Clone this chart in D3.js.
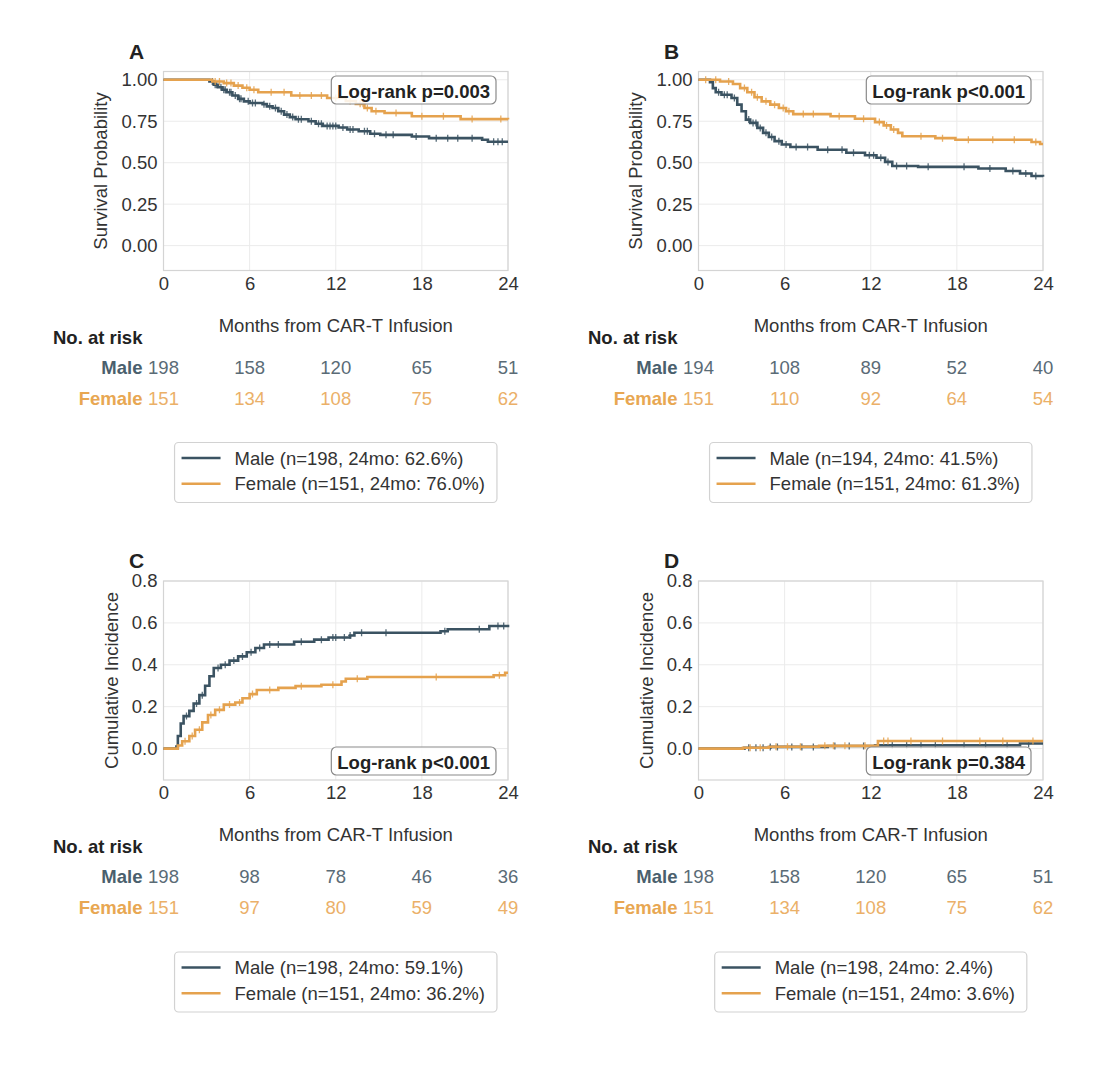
<!DOCTYPE html>
<html>
<head>
<meta charset="utf-8">
<script src="https://cdn.jsdelivr.net/npm/d3@7"></script>
<style>
  body { margin: 0; background: #fff; }
  text { font-family: "Liberation Sans", Arial, sans-serif; }
</style>
</head>
<body>
<svg id="chart" width="1112" height="1065"></svg>
<script>
'use strict';

// ---- data ----
const monthTicks = [0, 6, 12, 18, 24];
const panelLetters = ['A', 'B', 'C', 'D'];
const yTitles = ['Survival Probability', 'Survival Probability', 'Cumulative Incidence', 'Cumulative Incidence'];
const pLabels = ['Log-rank p=0.003', 'Log-rank p<0.001', 'Log-rank p<0.001', 'Log-rank p=0.384'];

// step curves: [month, value]
const maleA = [[0,1],[3.2,0.99],[3.5,0.97],[3.8,0.955],[4.1,0.94],[4.4,0.925],[4.8,0.905],[5.2,0.885],[5.6,0.87],[6.0,0.86],[6.9,0.853],[7.2,0.84],[7.6,0.83],[8.0,0.81],[8.4,0.79],[8.8,0.775],[9.2,0.762],[10.1,0.75],[10.6,0.735],[11.1,0.722],[12.2,0.712],[12.8,0.70],[13.6,0.69],[14.4,0.675],[15.1,0.668],[17.3,0.658],[18.5,0.648],[22.2,0.638],[22.6,0.626],[24,0.626]];
const femaleA = [[0,1],[3.4,0.99],[4.2,0.98],[4.9,0.965],[5.5,0.952],[6.0,0.94],[6.6,0.925],[8.9,0.905],[11.4,0.89],[12.7,0.872],[13.4,0.855],[14.0,0.83],[14.5,0.81],[15.4,0.80],[17.3,0.78],[20.7,0.763],[24,0.76]];
const maleB = [[0,1],[0.8,0.985],[1.0,0.95],[1.2,0.925],[1.6,0.91],[2.3,0.89],[2.7,0.85],[3.0,0.81],[3.3,0.76],[3.6,0.74],[4.1,0.71],[4.5,0.68],[4.9,0.655],[5.3,0.63],[5.8,0.61],[6.4,0.595],[8.3,0.578],[10.3,0.56],[11.6,0.545],[12.4,0.53],[13.0,0.505],[13.5,0.48],[15.3,0.475],[19.5,0.465],[21.4,0.45],[22.4,0.435],[23.2,0.42],[24,0.415]];
const femaleB = [[0,1],[1.5,0.99],[2.4,0.975],[2.9,0.95],[3.4,0.925],[3.9,0.895],[4.4,0.87],[5.0,0.85],[5.6,0.83],[6.1,0.81],[6.6,0.793],[9.2,0.78],[10.9,0.765],[12.3,0.745],[12.9,0.725],[13.4,0.70],[13.9,0.68],[14.2,0.66],[16.5,0.648],[17.9,0.638],[23.2,0.625],[23.8,0.613],[24,0.613]];
const maleC = [[0,0],[0.9,0.01],[1.0,0.06],[1.2,0.12],[1.4,0.155],[1.8,0.18],[2.1,0.215],[2.5,0.255],[2.9,0.30],[3.2,0.345],[3.5,0.385],[4.0,0.40],[4.6,0.42],[5.2,0.44],[5.8,0.46],[6.4,0.48],[7.0,0.497],[9.1,0.51],[10.5,0.52],[11.5,0.53],[13.0,0.54],[13.3,0.553],[19.3,0.56],[19.8,0.57],[22.7,0.585],[24,0.591]];
const femaleC = [[0,0],[1.0,0.015],[1.3,0.035],[1.8,0.06],[2.2,0.09],[2.7,0.125],[3.1,0.16],[3.6,0.185],[4.2,0.21],[5.0,0.22],[5.5,0.24],[6.0,0.26],[6.5,0.28],[8.0,0.29],[9.2,0.298],[11.0,0.305],[12.4,0.32],[12.7,0.333],[14.2,0.342],[23.0,0.35],[23.8,0.362],[24,0.362]];
const maleD = [[0,0],[3.2,0.004],[5.0,0.008],[9.0,0.012],[12.3,0.016],[22.4,0.024],[24,0.024]];
const femaleD = [[0,0],[3.1,0.004],[4.9,0.009],[8.4,0.013],[12.5,0.036],[24,0.036]];

// censoring times (months)
const maleCensA = [3.4,3.6,3.7,4.0,4.2,4.3,4.6,4.7,5.0,5.3,5.4,5.9,6.2,6.4,7.0,7.4,7.8,8.2,8.6,9.0,9.4,9.6,10.3,10.8,11.0,11.4,11.6,11.8,12.0,12.5,13.0,13.2,14.0,14.2,14.7,15.5,16.0,17.6,19.0,19.8,20.5,21.5,23.0,23.3,23.6];
const femaleCensA = [3.6,3.9,4.4,4.7,5.2,5.8,6.3,7.5,8.4,9.5,10.3,11.0,12.0,13.0,13.7,13.9,14.2,14.8,16.2,18.0,19.5,21.5,23.5];
const maleCensB = [1.4,1.8,2.0,2.5,3.5,3.8,4.0,4.3,4.7,5.1,5.6,6.1,6.8,7.6,9.0,10.0,10.8,11.9,12.2,12.7,13.2,13.8,14.5,16.0,18.5,20.3,21.9,22.8,23.5];
const femaleCensB = [0.5,1.2,2.1,3.2,3.7,4.1,4.7,5.3,5.9,6.3,7.3,8.0,9.8,11.5,12.6,13.1,13.6,15.5,17.0,18.8,20.5,22.0,23.5];
const maleCensC = [1.6,2.3,2.7,3.8,4.3,4.9,5.5,6.1,6.7,7.4,8.0,9.6,11.0,11.8,12.0,12.6,13.0,13.8,15.5,19.6,22.0,23.3,23.7];
const femaleCensC = [1.5,2.0,2.5,3.3,3.9,4.6,5.3,6.2,7.4,9.6,11.8,13.5,19.0,23.4];
const maleCensD = [3.5,4.0,4.5,5.0,5.5,6.5,7.2,8.0,9.5,10.5,11.5,13.5,14.5,15.5,16.5,18.5,20.0,21.5,23.0];
const femaleCensD = [3.6,4.3,5.4,6.2,7.1,8.8,9.4,10.2,11.6,12.9,13.2,14.8,17.0,19.6,21.2,23.3];

// numbers at risk at monthTicks
const riskMaleA = [198, 158, 120, 65, 51];
const riskFemaleA = [151, 134, 108, 75, 62];
const riskMaleB = [194, 108, 89, 52, 40];
const riskFemaleB = [151, 110, 92, 64, 54];
const riskMaleC = [198, 98, 78, 46, 36];
const riskFemaleC = [151, 97, 80, 59, 49];
const riskMaleD = [198, 158, 120, 65, 51];
const riskFemaleD = [151, 134, 108, 75, 62];

const legendMale = ['Male (n=198, 24mo: 62.6%)', 'Male (n=194, 24mo: 41.5%)', 'Male (n=198, 24mo: 59.1%)', 'Male (n=198, 24mo: 2.4%)'];
const legendFemale = ['Female (n=151, 24mo: 76.0%)', 'Female (n=151, 24mo: 61.3%)', 'Female (n=151, 24mo: 36.2%)', 'Female (n=151, 24mo: 3.6%)'];

const survTicks = [0, 0.25, 0.5, 0.75, 1.0];
const incTicks = [0, 0.2, 0.4, 0.6, 0.8];

// ---- styling ----
const MALE = '#3b5362';
const FEMALE = '#e5a24e';
const MALE_TXT = '#5a6b76';
const FEMALE_TXT = '#ebb068';
const FONT = 18.5;

const svg = d3.select('#chart');

const stepValue = (curve, t) => {
  let v = curve[0][1];
  curve.forEach((p) => { if (p[0] <= t) v = p[1]; });
  return v;
};

const panels = [
  { left: 163.5, top: 71.5, yDomain: [-0.15, 1.05], yTicks: survTicks, fmt: '.2f', pTop: true,
    male: maleA, female: femaleA, mc: maleCensA, fc: femaleCensA, rm: riskMaleA, rf: riskFemaleA },
  { left: 698.5, top: 71.5, yDomain: [-0.15, 1.05], yTicks: survTicks, fmt: '.2f', pTop: true,
    male: maleB, female: femaleB, mc: maleCensB, fc: femaleCensB, rm: riskMaleB, rf: riskFemaleB },
  { left: 163.5, top: 581, yDomain: [-0.15, 0.8], yTicks: incTicks, fmt: '.1f', pTop: false,
    male: maleC, female: femaleC, mc: maleCensC, fc: femaleCensC, rm: riskMaleC, rf: riskFemaleC },
  { left: 698.5, top: 581, yDomain: [-0.15, 0.8], yTicks: incTicks, fmt: '.1f', pTop: false,
    male: maleD, female: femaleD, mc: maleCensD, fc: femaleCensD, rm: riskMaleD, rf: riskFemaleD },
];

const W = 344.5;
const H = 199;

panels.forEach((p, i) => {
  const g = svg.append('g').attr('transform', `translate(${p.left},${p.top})`);
  const x = d3.scaleLinear().domain([0, 24]).range([0, W]);
  const y = d3.scaleLinear().domain(p.yDomain).range([H, 0]);

  // grid
  g.append('g').selectAll('line').data(monthTicks).enter().append('line')
    .attr('x1', (d) => x(d)).attr('x2', (d) => x(d)).attr('y1', 0).attr('y2', H)
    .attr('stroke', '#ebebeb').attr('stroke-width', 1);
  g.append('g').selectAll('line').data(p.yTicks).enter().append('line')
    .attr('y1', (d) => y(d)).attr('y2', (d) => y(d)).attr('x1', 0).attr('x2', W)
    .attr('stroke', '#ebebeb').attr('stroke-width', 1);

  // frame
  g.append('rect').attr('width', W).attr('height', H)
    .attr('fill', 'none').attr('stroke', '#d4d4d4').attr('stroke-width', 1.2);

  // axes (ticks hidden, labels only)
  const xa = g.append('g').attr('transform', `translate(0,${H})`)
    .call(d3.axisBottom(x).tickValues(monthTicks).tickSize(0).tickPadding(6));
  const ya = g.append('g')
    .call(d3.axisLeft(y).tickValues(p.yTicks).tickFormat(d3.format(p.fmt)).tickSize(0).tickPadding(6));
  [xa, ya].forEach((a) => {
    a.select('.domain').remove();
    a.selectAll('text').attr('font-size', FONT).attr('fill', '#333')
      .style('font-family', '"Liberation Sans", Arial, sans-serif');
  });

  // y title
  const yOff = p.fmt === '.2f' ? -63 : -52;
  g.append('text')
    .attr('transform', `translate(${yOff},${H / 2}) rotate(-90)`)
    .attr('text-anchor', 'middle').attr('dominant-baseline', 'central')
    .attr('font-size', FONT).attr('fill', '#333').text(yTitles[i]);

  // panel letter
  g.append('text').attr('x', -34.5).attr('y', -13)
    .attr('font-size', 21).attr('font-weight', 'bold').attr('fill', '#222')
    .text(panelLetters[i]);

  // curves
  const line = d3.line().x((d) => x(d[0])).y((d) => y(d[1])).curve(d3.curveStepAfter);
  const series = [
    { data: p.male, cens: p.mc, color: MALE },
    { data: p.female, cens: p.fc, color: FEMALE },
  ];
  series.forEach((s) => {
    g.append('path').datum(s.data).attr('d', line)
      .attr('fill', 'none').attr('stroke', s.color).attr('stroke-width', 2.6);
    g.append('g').selectAll('path').data(s.cens).enter().append('path')
      .attr('d', (t) => {
        const cx = x(t);
        const cy = y(stepValue(s.data, t));
        return `M${cx},${cy - 3.5}V${cy + 3.5}M${cx - 2},${cy}H${cx + 2}`;
      })
      .attr('stroke', s.color).attr('stroke-width', 1.3).attr('opacity', 0.85);
  });

  // log-rank box
  const pg = g.append('g');
  const pt = pg.append('text').attr('font-size', FONT).attr('font-weight', 'bold')
    .attr('fill', '#222').attr('text-anchor', 'middle').attr('dominant-baseline', 'central')
    .text(pLabels[i]);
  const tw = pt.node().getComputedTextLength();
  const bw = tw + 12;
  const bh = 28;
  const bx = W - 12 - bw;
  const by = p.pTop ? 4.5 : H - 5 - bh;
  pg.insert('rect', 'text').attr('x', bx).attr('y', by).attr('width', bw).attr('height', bh)
    .attr('rx', 5).attr('fill', '#fff').attr('fill-opacity', 0.85)
    .attr('stroke', '#8a8a8a').attr('stroke-width', 1.2);
  pt.attr('x', bx + bw / 2).attr('y', by + bh / 2 + 1);

  // x title
  g.append('text').attr('x', W / 2).attr('y', H + 61)
    .attr('text-anchor', 'middle').attr('font-size', FONT).attr('fill', '#333')
    .text('Months from CAR-T Infusion');

  // risk table
  g.append('text').attr('x', -110.5).attr('y', H + 73)
    .attr('font-size', FONT).attr('font-weight', 'bold').attr('fill', '#222')
    .text('No. at risk');
  const rows = [
    { name: 'Male', vals: p.rm, lc: '#4a5f6d', nc: MALE_TXT, dy: H + 103 },
    { name: 'Female', vals: p.rf, lc: '#e8a752', nc: FEMALE_TXT, dy: H + 134 },
  ];
  rows.forEach((r) => {
    g.append('text').attr('x', -21).attr('y', r.dy).attr('text-anchor', 'end')
      .attr('font-size', FONT).attr('font-weight', 'bold').attr('fill', r.lc).text(r.name);
    g.append('g').selectAll('text').data(r.vals).enter().append('text')
      .attr('x', (d, j) => x(monthTicks[j])).attr('y', r.dy)
      .attr('text-anchor', 'middle').attr('font-size', FONT).attr('fill', r.nc)
      .text((d) => d);
  });

  // legend
  const lg = g.append('g');
  const items = [
    { label: legendMale[i], color: MALE },
    { label: legendFemale[i], color: FEMALE },
  ];
  const texts = items.map((it) => lg.append('text')
    .attr('font-size', FONT).attr('fill', '#333').attr('y', 0).text(it.label));
  const maxW = d3.max(texts, (t) => t.node().getComputedTextLength());
  const lw = maxW + 72;
  const lx = W / 2 - lw / 2;
  const ly = H + 172;
  lg.insert('rect', 'text').attr('x', lx).attr('y', ly).attr('width', lw).attr('height', 60)
    .attr('rx', 4).attr('fill', '#fff').attr('stroke', '#d2d2d2').attr('stroke-width', 1.2);
  items.forEach((it, j) => {
    const cy = ly + 15.5 + j * 25.8;
    lg.append('line').attr('x1', lx + 7).attr('x2', lx + 46).attr('y1', cy).attr('y2', cy)
      .attr('stroke', it.color).attr('stroke-width', 2.4);
    texts[j].attr('x', lx + 60).attr('y', cy + 6.5);
  });
});
</script>
</body>
</html>
